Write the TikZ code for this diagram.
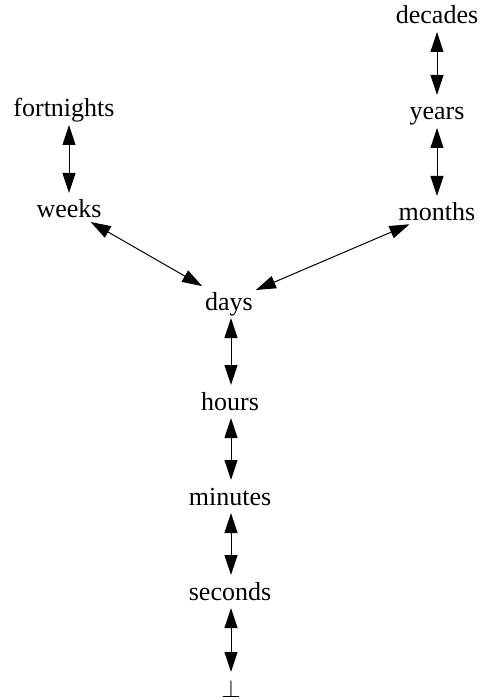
\documentclass[tikz,border=0pt]{standalone}
\usepackage{fontspec}
\setmainfont{Liberation Serif}
\usetikzlibrary{arrows.meta}
\begin{document}
\begin{tikzpicture}[x=1pt,y=-1pt,
  lbl/.style={anchor=base,font=\fontsize{26}{30}\selectfont,text height=22pt,text depth=5pt,inner sep=3pt,outer sep=0pt},
  link/.style={line width=1pt,{Triangle[length=20pt,width=13pt]}-{Triangle[length=20pt,width=13pt]}}]
\useasboundingbox (0,0) rectangle (481,700);
\node[lbl] (decades) at (437,24) {decades};
\node[lbl] (years) at (437,120) {years};
\node[lbl] (months) at (437,221) {months};
\node[lbl] (fortnights) at (64,117) {fortnights};
\node[lbl] (weeks) at (69,218) {weeks};
\node[lbl] (days) at (229,310) {days};
\node[lbl] (hours) at (230,410) {hours};
\node[lbl] (minutes) at (230,505) {minutes};
\node[lbl] (seconds) at (230,600) {seconds};
\node[lbl] (bot) at (231,697) {$\bot$};
\draw[link] (decades) -- (years);
\draw[link] (years) -- (months);
\draw[link] (fortnights.south -| weeks.north) -- (weeks.north);
\draw[link,shorten <=-8pt] (weeks) -- (days);
\draw[link,shorten <=-12pt] (months) -- (days);
\draw[link] (days.south -| bot.north) -- (hours.north -| bot.north);
\draw[link] (hours.south -| bot.north) -- (minutes.north -| bot.north);
\draw[link] (minutes.south -| bot.north) -- (seconds.north -| bot.north);
\draw[link] (seconds.south -| bot.north) -- (bot.north);
\end{tikzpicture}
\end{document}
